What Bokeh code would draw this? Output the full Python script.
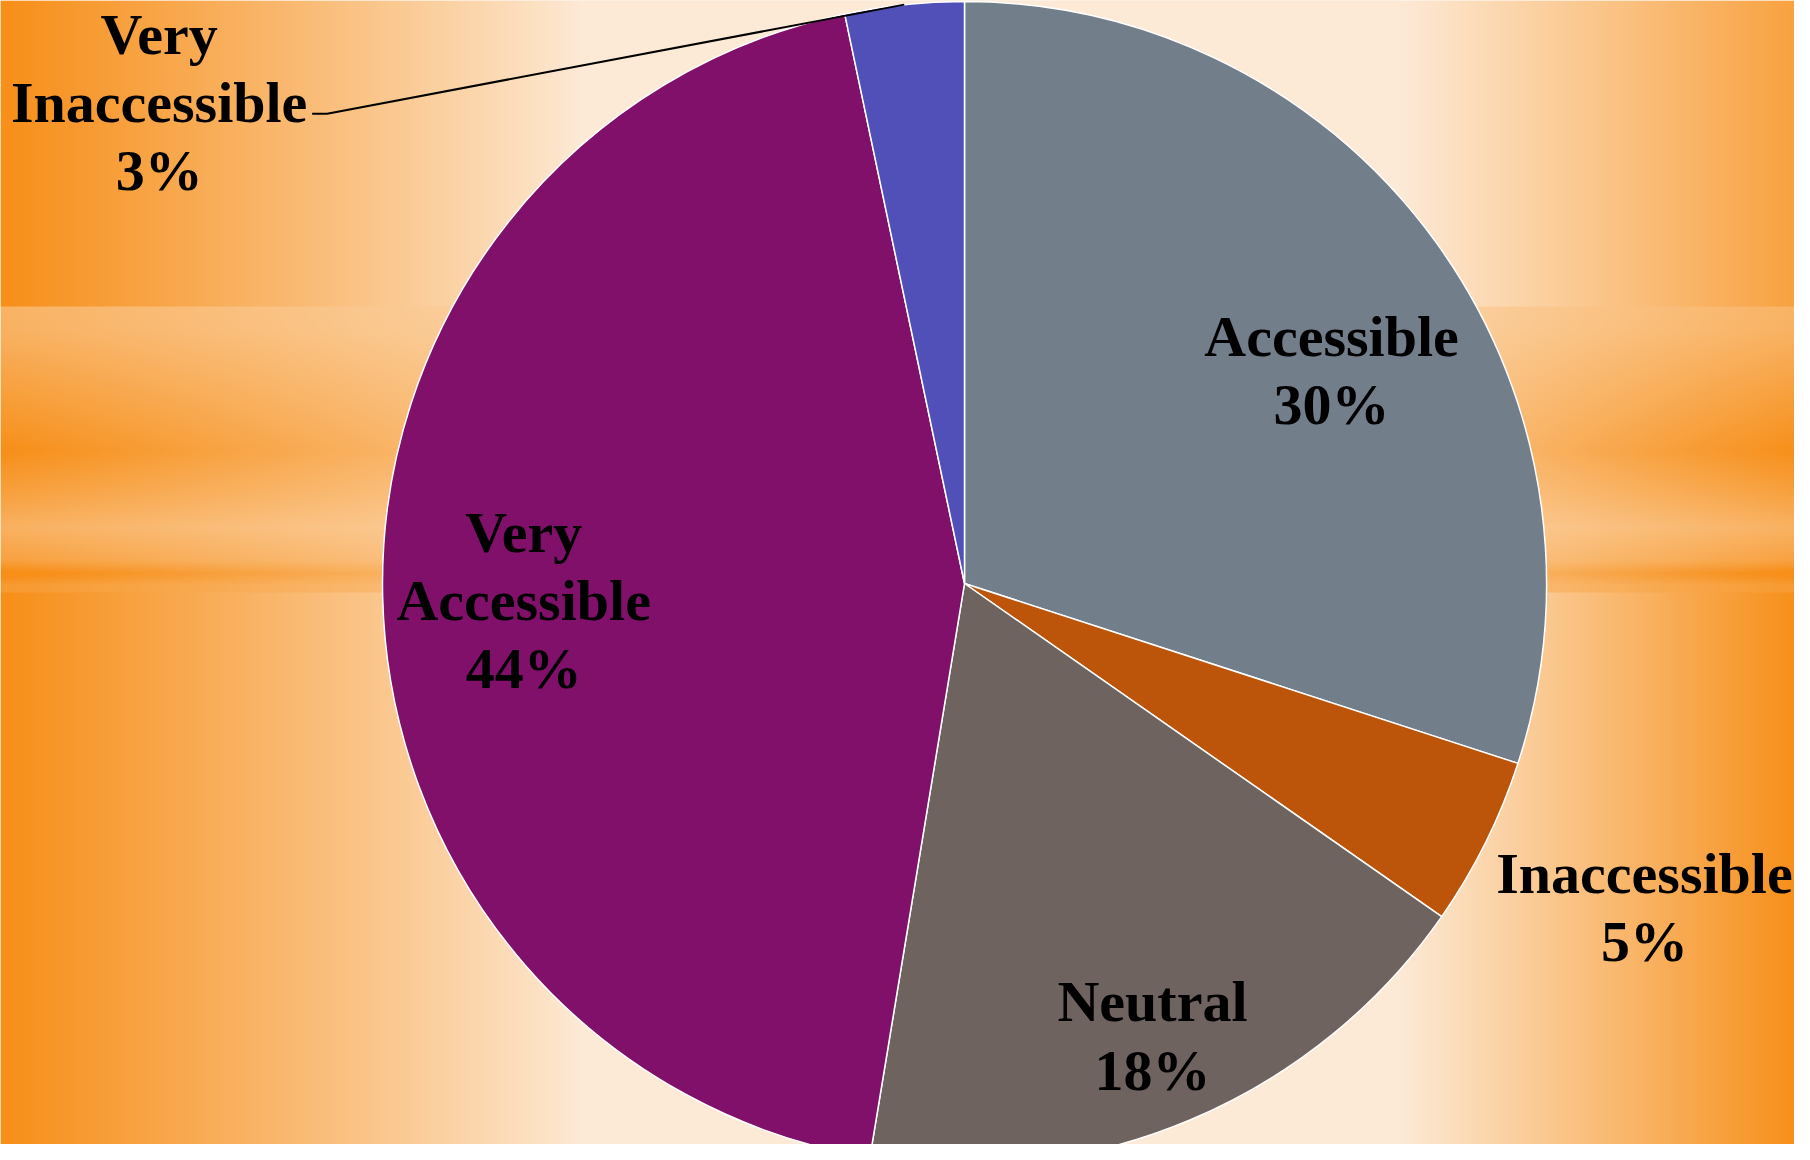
import numpy as np
from bokeh.plotting import figure
from bokeh.models import Range1d
from bokeh.core.properties import value
from bokeh.embed import file_html
from bokeh.resources import INLINE

# ---------------- data ----------------
categories = ["Accessible", "Inaccessible", "Neutral", "Very Accessible", "Very Inaccessible"]
shares = [30.0, 4.7, 17.9, 44.1, 3.3]
display_names = ["Accessible", "Inaccessible", "Neutral", "Very\nAccessible", "Very\nInaccessible"]

# ---------------- style ----------------
colors = ["#737E8B", "#BC540A", "#6F6360", "#80106A", "#5050B8"]
label_k = [0.729, 1.294, 0.842, 0.758, 1.612]      # radial factor of label centre
label_dang = [-5.9, 1.0, -0.3, 0.95, 53.2]        # angular nudge (deg)

W, H = 1794, 1144
FULL_H = 1160
CX, CY, R = 964, FULL_H - 583, 582

p = figure(width=W, height=H, output_backend="svg", toolbar_location=None,
           x_range=Range1d(0, W), y_range=Range1d(FULL_H - H, FULL_H),
           min_border=0)
p.axis.visible = False
p.grid.visible = False
p.outline_line_color = None
p.background_fill_color = "#FDEAD6"
p.border_fill_color = "#FDEAD6"

# ---------------- background gradient ----------------
Hh, Wh = 572, 897
xs = np.linspace(0, W, Wh)
ys_ref = np.linspace(0, H, Hh)     # screen y from top
XX, YY = np.meshgrid(xs, ys_ref)
left = np.clip(1 - XX / 580.0, 0, 1) ** 0.9
right = np.clip((XX - 1400) / 400.0, 0, 1) ** 1.0
right = np.where(YY < 305, right * 0.8, right)
e = np.maximum(left, right)
band = (YY > 305) & (YY < 592)
bl = np.clip(1 - XX / 820.0, 0, 1) ** 0.8
br = np.clip((XX - 1230) / 570.0, 0, 1) ** 0.8
eb = np.maximum(bl, br)
stripe = np.interp(YY, [305, 330, 450, 490, 527, 560, 573, 585, 592],
                   [0.6, 0.62, 1.0, 0.82, 0.62, 0.8, 1.05, 0.88, 0.88])
eb = np.clip(eb * stripe, 0, 1)
e = np.where(band, eb, e)
orange = np.array([247, 143, 25], dtype=float)
cream = np.array([253, 234, 214], dtype=float)
rgb = cream * (1 - e[..., None]) + orange * e[..., None]
img = np.empty((Hh, Wh), dtype=np.uint32)
view = img.view(dtype=np.uint8).reshape((Hh, Wh, 4))
view[..., 0] = rgb[..., 0].astype(np.uint8)
view[..., 1] = rgb[..., 1].astype(np.uint8)
view[..., 2] = rgb[..., 2].astype(np.uint8)
view[..., 3] = 255
img = img[::-1].copy()
p.image_rgba(image=[img], x=0, y=FULL_H - H, dw=W, dh=H)

# ---------------- pie ----------------
total = float(sum(shares))
cum = np.concatenate([[0.0], np.cumsum(shares)]) / total
starts = np.pi / 2 - 2 * np.pi * cum[:-1]
ends = np.pi / 2 - 2 * np.pi * cum[1:]
p.wedge(x=CX, y=CY, radius=R, start_angle=list(starts), end_angle=list(ends),
        direction="clock", fill_color=colors, line_color="white", line_width=1.5)

# ---------------- labels ----------------
mids = (starts + ends) / 2
lx, ly, texts = [], [], []
for i, name in enumerate(display_names):
    a = mids[i] + np.deg2rad(label_dang[i])
    lx.append(CX + R * label_k[i] * np.cos(a))
    ly.append(CY + R * label_k[i] * np.sin(a))
    pct = f"{round(shares[i] / total * 100):.0f}%"
    texts.append(f"{name}\n{pct}")

# leader line for the last (outside) label
i = 4
ax, ay = CX + R * np.cos(mids[i]), CY + R * np.sin(mids[i])
p.line(x=[lx[i] + 153, lx[i] + 168, ax], y=[ly[i] - 11.4, ly[i] - 11.4, ay],
       line_color="black", line_width=2)

p.text(x=lx, y=ly, text=texts, text_align="center", text_baseline="middle",
       text_font=value("Liberation Serif"), text_font_style="bold",
       text_font_size="58px", text_line_height=1.05, text_color="black")

open("out.html", "w").write(file_html(p, INLINE))
